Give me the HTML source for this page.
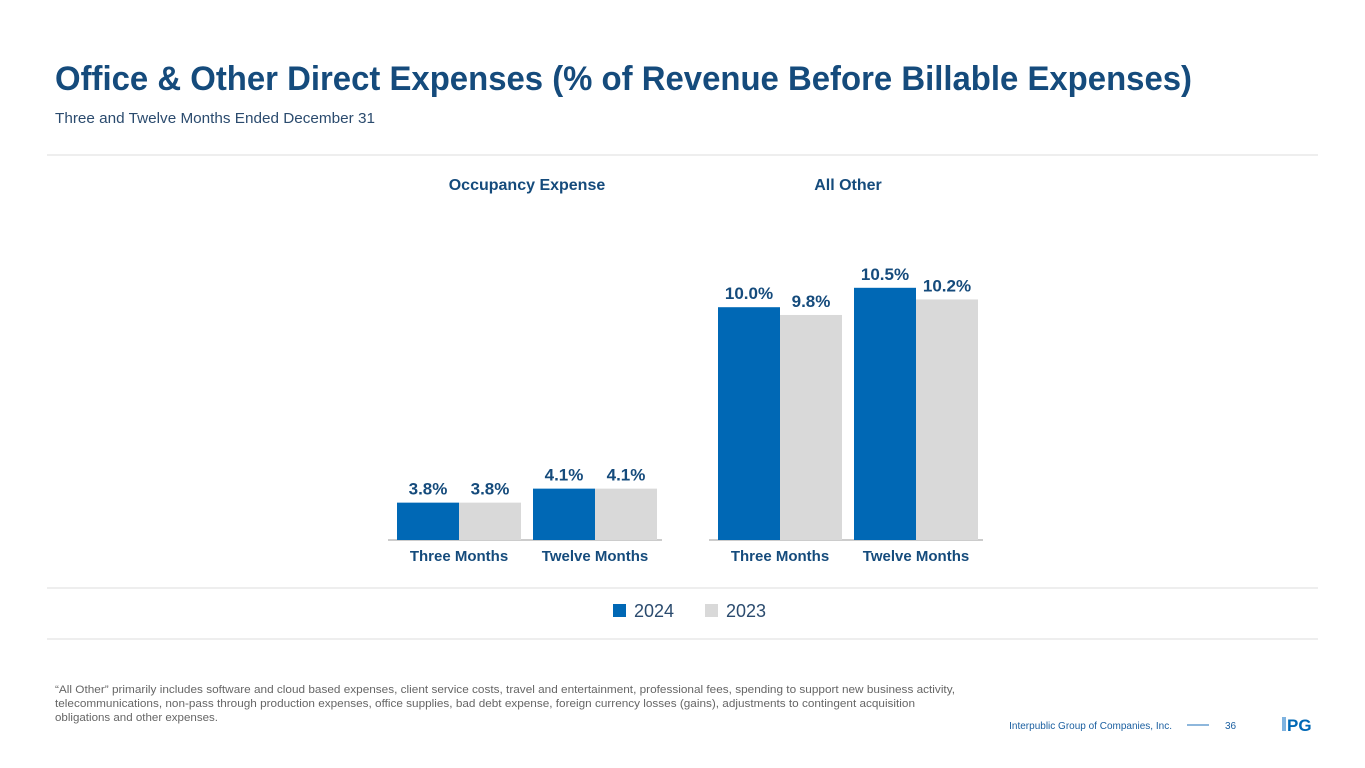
<!DOCTYPE html>
<html><head><meta charset="utf-8"><style>
body{margin:0;background:#fff;}
svg{display:block;font-family:"Liberation Sans",sans-serif;}
</style></head><body>
<svg width="1365" height="768" viewBox="0 0 1365 768">
<text x="55" y="90" font-size="34" font-weight="bold" fill="#154b7c" textLength="1137" lengthAdjust="spacingAndGlyphs">Office &amp; Other Direct Expenses (% of Revenue Before Billable Expenses)</text>
<text x="55" y="123" font-size="15" fill="#2b4b6e" textLength="320" lengthAdjust="spacingAndGlyphs">Three and Twelve Months Ended December 31</text>
<line x1="47" y1="155" x2="1318" y2="155" stroke="#ddd" stroke-width="1"/>
<line x1="47" y1="588" x2="1318" y2="588" stroke="#ddd" stroke-width="1"/>
<line x1="47" y1="639" x2="1318" y2="639" stroke="#ddd" stroke-width="1"/>
<text x="527" y="190" font-size="16" font-weight="bold" fill="#154b7c" text-anchor="middle">Occupancy Expense</text>
<text x="848" y="190" font-size="16" font-weight="bold" fill="#154b7c" text-anchor="middle">All Other</text>
<g id="charts"></g>
<rect x="613" y="604" width="13" height="13" fill="#0068b5"/>
<text x="634" y="617" font-size="18" fill="#2b4b6e">2024</text>
<rect x="705" y="604" width="13" height="13" fill="#d9d9d9"/>
<text x="726" y="617" font-size="18" fill="#2b4b6e">2023</text>
<g font-size="11" fill="#666">
<text x="55" y="693" textLength="900" lengthAdjust="spacingAndGlyphs">“All Other” primarily includes software and cloud based expenses, client service costs, travel and entertainment, professional fees, spending to support new business activity,</text>
<text x="55" y="707" textLength="860" lengthAdjust="spacingAndGlyphs">telecommunications, non-pass through production expenses, office supplies, bad debt expense, foreign currency losses (gains), adjustments to contingent acquisition</text>
<text x="55" y="721" textLength="163" lengthAdjust="spacingAndGlyphs">obligations and other expenses.</text>
</g>
<text x="1172" y="729" font-size="10" fill="#1b5fa0" text-anchor="end">Interpublic Group of Companies, Inc.</text>
<line x1="1187" y1="725" x2="1209" y2="725" stroke="#4a8cc7" stroke-width="1.2"/>
<text x="1225" y="729" font-size="10" fill="#1b5fa0">36</text>
<g>
<rect x="1282" y="717" width="4" height="14" fill="#7fb3e0"/>
<text x="1287" y="731" font-size="17" font-weight="bold" fill="#0068b5">PG</text>
</g>
</svg>
<script>
const categories=["Three Months","Twelve Months"];
const occ2024=[3.8,4.1];
const occ2023=[3.8,4.1];
const oth2024=[10.0,10.5];
const oth2023=[9.8,10.2];
const NS="http://www.w3.org/2000/svg";
const g=document.getElementById('charts');
function mk(tag,attrs){const e=document.createElementNS(NS,tag);for(const k in attrs)e.setAttribute(k,attrs[k]);g.appendChild(e);return e;}
function chart(x0,axMin,pxPer,a,b,prefix){
  const base=540;
  const y=v=>base-(v-axMin)*pxPer;
  const ax=mk('line',{x1:x0-9,y1:base,x2:x0+265,y2:base,stroke:'#bbb','stroke-width':1.5});
  
  
  categories.forEach((c,i)=>{
    const gx=x0+i*136;
    [[a[i],'#0068b5','2024'],[b[i],'#d9d9d9','2023']].forEach(([v,col,yr],j)=>{
      const bx=gx+j*62;
      const r=mk('rect',{x:bx,y:y(v),width:62,height:base-y(v),fill:col});
      
      
      const t=mk('text',{x:bx+31,y:y(v)-8,'font-size':17,'font-weight':'bold',fill:'#154b7c','text-anchor':'middle'});
      t.textContent=v.toFixed(1)+'%';
      
      
    });
    const l=mk('text',{x:gx+62,y:561,'font-size':15,'font-weight':'bold',fill:'#154b7c','text-anchor':'middle'});
    l.textContent=c;
    
    
  });
}
chart(397,3,46.7,occ2024,occ2023,'occupancy');
chart(718,4,38.8,oth2024,oth2023,'all-other');
</script>
</body></html>
